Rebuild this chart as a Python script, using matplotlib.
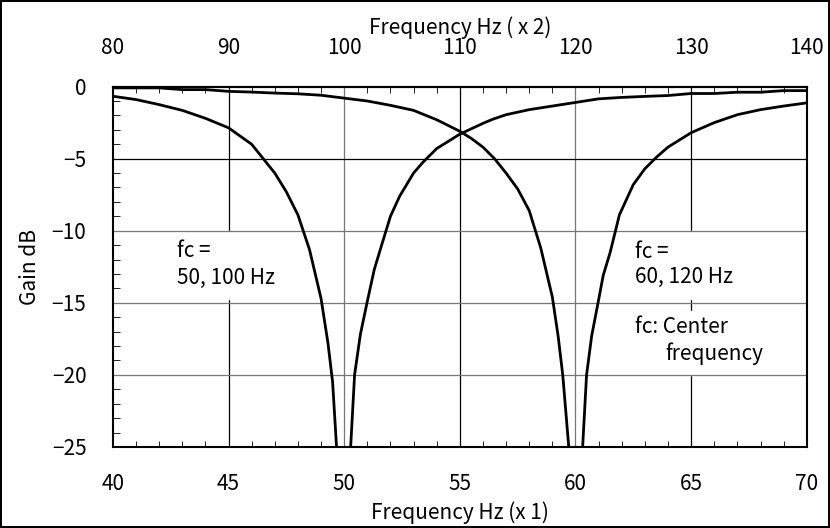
import matplotlib.pyplot as plt
import matplotlib.patches as patches
from matplotlib.ticker import MultipleLocator

plt.rcParams['font.family'] = ['Noto Sans CJK JP', 'DejaVu Sans']

# fc = 50 Hz notch (100 Hz on top axis)
freq_50 = [40, 41, 42, 43, 44, 45, 46, 47, 47.5, 48, 48.5, 49, 49.3, 49.5, 49.67,
           50.0,
           50.28, 50.45, 50.7, 51.0, 51.3, 51.6, 52.0, 52.4, 53.0, 53.4, 54, 55,
           56, 56.4, 57, 58, 59, 60, 61, 62, 63, 64, 65, 66, 67, 68, 69, 70]
gain_50 = [-0.67, -0.9, -1.25, -1.65, -2.2, -2.86, -4.0, -6.0, -7.3, -8.9, -11.3, -14.7, -17.8, -20.5, -25,
           -60,
           -25, -20, -17.2, -14.9, -12.7, -11.1, -9.0, -7.6, -6.0, -5.26, -4.3, -3.3,
           -2.55, -2.28, -1.95, -1.6, -1.35, -1.1, -0.85, -0.75, -0.68, -0.62, -0.48, -0.48, -0.39, -0.39, -0.28, -0.28]

# fc = 60 Hz notch (120 Hz on top axis)
freq_60 = [40, 41, 42, 43, 44, 45, 46, 47, 48, 49, 50, 51, 52, 53, 54, 55, 55.5, 56, 56.5,
           57, 57.5, 58, 58.5, 59, 59.25, 59.45, 59.71,
           60.0,
           60.31, 60.48, 60.7, 61.0, 61.2, 61.5, 61.9, 62.5, 63, 63.5, 64, 65, 66, 67, 68, 69, 70]
gain_60 = [-0.09, -0.09, -0.09, -0.21, -0.21, -0.33, -0.38, -0.45, -0.5, -0.6, -0.8, -1.0, -1.3, -1.65, -2.3, -3.1, -3.6, -4.2, -5.0,
           -6.0, -7.1, -8.6, -11.2, -14.6, -17.3, -20, -25,
           -60,
           -25, -20, -17.3, -14.8, -13.1, -11.5, -8.9, -6.8, -5.7, -4.9, -4.2, -3.2, -2.5, -1.95, -1.6, -1.35, -1.13]

x_ticks = [40, 45, 50, 55, 60, 65, 70]
top_ticks = [80, 90, 100, 110, 120, 130, 140]
y_ticks = [0, -5, -10, -15, -20, -25]
y_labels = ['0', '−5', '−10', '−15', '−20', '−25']

fig = plt.figure(figsize=(8.3, 5.28), dpi=100)
fig.patch.set_edgecolor('black')
fig.patch.set_linewidth(1.5)
ax = fig.add_axes([0.136, 0.1535, 0.836, 0.6825])

ax.set_xlim(40, 70)
ax.set_ylim(-25, 0)

# grid
for i, x in enumerate(x_ticks[1:-1]):
    ax.axvline(x, color='black' if i % 2 == 0 else '#777777', lw=0.9, zorder=1)
for y in y_ticks[1:-1]:
    ax.axhline(y, color='black' if y == -5 else '#777777', lw=0.9, zorder=2)

# white boxes behind the notes
ax.add_patch(patches.Rectangle((42.5, -14.75), 4.6, 4.7, color='white', zorder=1.5))
ax.add_patch(patches.Rectangle((62.3, -14.75), 5.5, 4.7, color='white', zorder=1.5))
ax.add_patch(patches.Rectangle((62.3, -20), 5.5, 4.4, color='white', zorder=1.5))

ax.plot(freq_50, gain_50, color='black', lw=2, zorder=4)
ax.plot(freq_60, gain_60, color='black', lw=2, zorder=4)

fs = 15
ax.text(42.78, -11.39, 'fc =', fontsize=fs, va='center', zorder=3)
ax.text(42.78, -13.3, '50, 100 Hz', fontsize=fs, va='center', zorder=3)
ax.text(62.57, -11.5, 'fc =', fontsize=fs, va='center', zorder=3)
ax.text(62.57, -13.23, '60, 120 Hz', fontsize=fs, va='center', zorder=3)
ax.text(62.57, -16.69, 'fc: Center', fontsize=fs, va='center', zorder=3)
ax.text(63.87, -18.53, 'frequency', fontsize=fs, va='center', zorder=3)

ax.set_xticks(x_ticks)
ax.xaxis.set_minor_locator(MultipleLocator(1))
ax.set_yticks(y_ticks)
ax.set_yticklabels(y_labels)
ax.yaxis.set_minor_locator(MultipleLocator(1))
ax.tick_params(axis='x', which='both', direction='in', top=False, labelsize=fs, pad=19)
ax.tick_params(axis='x', which='major', length=0)
ax.tick_params(axis='x', which='minor', length=4)
ax.tick_params(axis='y', which='both', direction='in', right=False, labelsize=fs, pad=19)
ax.tick_params(axis='y', which='major', length=0)
ax.tick_params(axis='y', which='minor', length=5)

ax.set_xlabel('Frequency Hz (x 1)', fontsize=fs, labelpad=4)
ax.set_ylabel('Gain dB', fontsize=fs, labelpad=8)

top = ax.secondary_xaxis('top', functions=(lambda x: x * 2, lambda x: x / 2))
top.set_xticks(top_ticks)
top.xaxis.set_minor_locator(MultipleLocator(2))
top.tick_params(which='both', direction='in', labelsize=fs, pad=20)
top.tick_params(which='major', length=0)
top.tick_params(which='minor', length=4)
top.set_xlabel('Frequency Hz ( x 2)', fontsize=fs, labelpad=2)

for s in ax.spines.values():
    s.set_linewidth(1.5)
top.spines['top'].set_linewidth(1.5)

fig.savefig('out.png', dpi=100)
